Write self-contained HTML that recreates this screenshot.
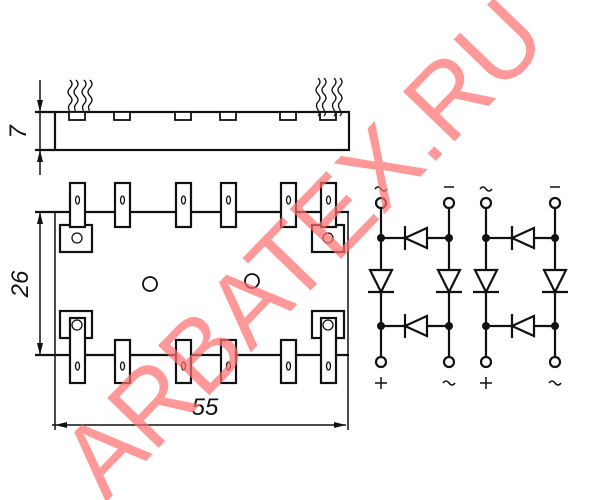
<!DOCTYPE html>
<html><head><meta charset="utf-8"><style>html,body{margin:0;padding:0;background:#fff}svg{display:block}</style></head>
<body>
<svg width="600" height="500" viewBox="0 0 600 500" xmlns="http://www.w3.org/2000/svg" font-family="Liberation Sans, sans-serif">
<g stroke="#111" stroke-width="2.2" fill="none">
<!-- side view -->
<rect x="55" y="112" width="294" height="38"/>
<line x1="35" y1="112" x2="55" y2="112"/><line x1="35" y1="150" x2="55" y2="150"/>
<line x1="40" y1="80" x2="40" y2="175" stroke-width="1.5"/>
<g fill="#fff" stroke-width="1.8">
<rect x="69" y="112" width="16" height="8"/><rect x="114" y="112" width="16" height="8"/><rect x="175" y="112" width="16" height="8"/><rect x="220" y="112" width="16" height="8"/><rect x="280" y="112" width="16" height="8"/><rect x="320" y="112" width="16" height="8"/>
</g>
<g stroke-width="1.3">
<path d="M70 80 q4 4 0 8 q-4 4 0 8 q4 4 0 8 q-3 3 0 8"/><path d="M76 80 q4 4 0 8 q-4 4 0 8 q4 4 0 8 q-3 3 0 8"/>
<path d="M84 80 q4 4 0 8 q-4 4 0 8 q4 4 0 8 q-3 3 0 8"/><path d="M90 80 q4 4 0 8 q-4 4 0 8 q4 4 0 8 q-3 3 0 8"/>
<path d="M318 78 q4 4 0 8 q-4 4 0 8 q4 4 0 8 q-3 3 0 8 q3 3 0 6"/><path d="M324 78 q4 4 0 8 q-4 4 0 8 q4 4 0 8 q-3 3 0 8 q3 3 0 6"/>
<path d="M334 78 q4 4 0 8 q-4 4 0 8 q4 4 0 8 q-3 3 0 8 q3 3 0 6"/><path d="M340 78 q4 4 0 8 q-4 4 0 8 q4 4 0 8 q-3 3 0 8 q3 3 0 6"/>
</g>
<!-- plan view -->
<line x1="35" y1="212" x2="349" y2="212"/><line x1="35" y1="355" x2="349" y2="355"/>
<line x1="55" y1="212" x2="55" y2="430" stroke-width="1.5"/><line x1="348" y1="212" x2="348" y2="430" stroke-width="1.5"/>
<line x1="40" y1="212" x2="40" y2="355" stroke-width="1.5"/>
<line x1="52" y1="425" x2="346" y2="425" stroke-width="1.5"/>
<g fill="#fff" stroke-width="2.2">
<rect x="60" y="225" width="32" height="27"/><rect x="312" y="225" width="32" height="27"/>
<rect x="60" y="311" width="32" height="27"/><rect x="312" y="311" width="32" height="27"/>
<rect x="70" y="183" width="15" height="44"/><rect x="115" y="183" width="15" height="44"/><rect x="176" y="183" width="15" height="44"/><rect x="221" y="183" width="15" height="44"/><rect x="281" y="183" width="15" height="44"/><rect x="321" y="183" width="15" height="44"/>
<rect x="70" y="318" width="15" height="65"/><rect x="115" y="340" width="15" height="43"/><rect x="176" y="340" width="15" height="43"/><rect x="221" y="340" width="15" height="43"/><rect x="281" y="340" width="15" height="43"/><rect x="321" y="318" width="15" height="65"/>
</g>
<g stroke-width="1.3">
<ellipse cx="77.5" cy="200" rx="2" ry="4"/><ellipse cx="122.5" cy="200" rx="2" ry="4"/><ellipse cx="183.5" cy="200" rx="2" ry="4"/><ellipse cx="228.5" cy="200" rx="2" ry="4"/><ellipse cx="288.5" cy="200" rx="2" ry="4"/><ellipse cx="328.5" cy="200" rx="2" ry="4"/>
<ellipse cx="77.5" cy="366" rx="2" ry="4"/><ellipse cx="122.5" cy="366" rx="2" ry="4"/><ellipse cx="183.5" cy="366" rx="2" ry="4"/><ellipse cx="228.5" cy="366" rx="2" ry="4"/><ellipse cx="288.5" cy="366" rx="2" ry="4"/><ellipse cx="328.5" cy="366" rx="2" ry="4"/>
<circle cx="77" cy="238" r="5"/><circle cx="328" cy="238" r="5"/><circle cx="77" cy="325" r="5"/><circle cx="328" cy="325" r="5"/>
</g>
<circle cx="150" cy="284" r="7" stroke-width="1.8"/><circle cx="252" cy="281" r="7" stroke-width="1.8"/>
</g>
<g fill="#111">
<path d="M40 112 l-3 -12 h6z"/><path d="M40 150 l-3 12 h6z"/>
<path d="M40 212 l-3 12 h6z"/><path d="M40 355 l-3 -12 h6z"/>
<path d="M55 425 l12 -3 v6z"/><path d="M346 425 l-12 -3 v6z"/>
<text x="0" y="0" font-size="24" font-style="italic" transform="translate(26 132) rotate(-90)" text-anchor="middle">7</text>
<text x="0" y="0" font-size="24" font-style="italic" transform="translate(28 284) rotate(-90)" text-anchor="middle">26</text>
<text x="205" y="415" font-size="24" font-style="italic" text-anchor="middle">55</text>
</g>
<!-- schematic -->
<g stroke="#111" stroke-width="2.2" fill="none">
<line x1="381" y1="208" x2="381" y2="357"/><line x1="449" y1="208" x2="449" y2="357"/>
<line x1="486" y1="208" x2="486" y2="357"/><line x1="555" y1="208" x2="555" y2="357"/>
<line x1="381" y1="238" x2="449" y2="238"/><line x1="381" y1="326" x2="449" y2="326"/>
<line x1="486" y1="238" x2="555" y2="238"/><line x1="486" y1="326" x2="555" y2="326"/>
<g fill="#fff">
<circle cx="381" cy="203" r="5"/><circle cx="449" cy="203" r="5"/><circle cx="486" cy="203" r="5"/><circle cx="555" cy="203" r="5"/>
<circle cx="381" cy="362" r="5"/><circle cx="449" cy="362" r="5"/><circle cx="486" cy="362" r="5"/><circle cx="555" cy="362" r="5"/>
<path d="M405 238 L427 228 L427 248Z"/><path d="M512 238 L534 228 L534 248Z"/>
<path d="M405 326 L427 316 L427 336Z"/><path d="M512 326 L534 316 L534 336Z"/>
<path d="M381 292 L370 270 L392 270Z"/><path d="M449 292 L438 270 L460 270Z"/>
<path d="M486 292 L475 270 L497 270Z"/><path d="M555 292 L544 270 L566 270Z"/>
</g>
<line x1="405" y1="226" x2="405" y2="250"/><line x1="512" y1="226" x2="512" y2="250"/>
<line x1="405" y1="314" x2="405" y2="338"/><line x1="512" y1="314" x2="512" y2="338"/>
<line x1="368" y1="292" x2="394" y2="292"/><line x1="436" y1="292" x2="462" y2="292"/>
<line x1="473" y1="292" x2="499" y2="292"/><line x1="542" y1="292" x2="568" y2="292"/>
<path d="M375 189 q3 -4 6 0 q3 4 6 0" stroke-width="1.5"/><path d="M480 189 q3 -4 6 0 q3 4 6 0" stroke-width="1.5"/>
<line x1="444" y1="187" x2="454" y2="187" stroke-width="1.5"/><line x1="550" y1="187" x2="560" y2="187" stroke-width="1.5"/>
<path d="M375 383 h12 M381 377 v12" stroke-width="1.5"/><path d="M480 383 h12 M486 377 v12" stroke-width="1.5"/>
<path d="M443 383 q3 -4 6 0 q3 4 6 0" stroke-width="1.5"/><path d="M549 383 q3 -4 6 0 q3 4 6 0" stroke-width="1.5"/>
</g>
<g fill="#111">
<circle cx="381" cy="238" r="4"/><circle cx="449" cy="238" r="4"/><circle cx="486" cy="238" r="4"/><circle cx="555" cy="238" r="4"/>
<circle cx="381" cy="326" r="4"/><circle cx="449" cy="326" r="4"/><circle cx="486" cy="326" r="4"/><circle cx="555" cy="326" r="4"/>
</g>
<!-- watermark -->
<text x="0" y="0" font-size="104" fill="#ff7070" fill-opacity="0.72" text-anchor="middle" dominant-baseline="central" textLength="640" lengthAdjust="spacingAndGlyphs" transform="translate(303 248) rotate(-46)">ARBATEX.RU</text>
</svg>
</body></html>
